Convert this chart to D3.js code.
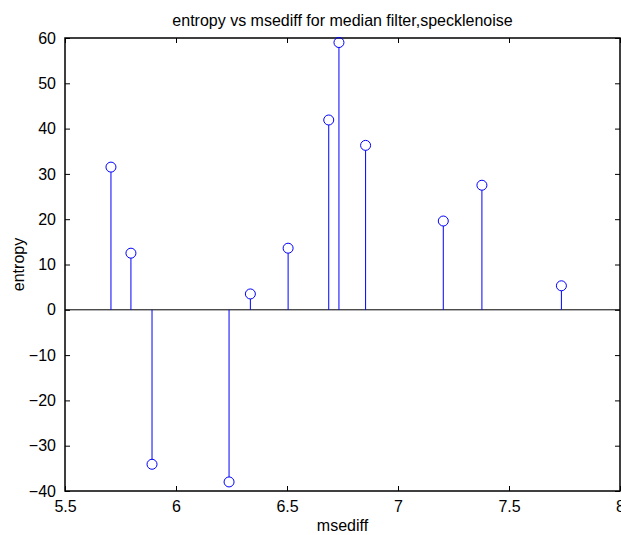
<!DOCTYPE html>
<html>
<head>
<meta charset="utf-8">
<script src="https://cdn.jsdelivr.net/npm/d3@7"></script>
<style>
  body { margin: 0; background: #fff; }
  svg text { font-family: Arial, "Liberation Sans", sans-serif; fill: #000; }
</style>
</head>
<body>
<div class="d3Chart"></div>
<script>
// data
var msediff = [5.707, 5.797, 5.892, 6.239, 6.335, 6.505, 6.688, 6.734, 6.854, 7.204, 7.378, 7.736];
var entropy = [31.5, 12.5, -34.1, -38.0, 3.5, 13.6, 41.9, 59.0, 36.3, 19.6, 27.5, 5.3];
var xTicks = [5.5, 6, 6.5, 7, 7.5, 8];
var yTicks = [-40, -30, -20, -10, 0, 10, 20, 30, 40, 50, 60];

var width = 621;
var height = 535;
var mLeft = 65, mRight = 620, mTop = 38, mBottom = 491;

var svg = d3.select(".d3Chart")
  .append("svg")
  .attr("width", width)
  .attr("height", height);

var xScale = d3.scaleLinear().domain([5.5, 8]).range([mLeft, mRight]);
var yScale = d3.scaleLinear().domain([-40, 60]).range([mBottom, mTop]);

// ticks on all four sides, pointing in
var tk = 5;
svg.append("g").attr("transform", `translate(0,${mBottom})`)
  .call(d3.axisBottom(xScale).tickValues(xTicks).tickSizeInner(-tk).tickSizeOuter(0).tickPadding(10)
    .tickFormat(d3.format("")))
  .call(g => g.select(".domain").remove())
  .call(g => g.selectAll("text").style("font-size", "16px"));
svg.append("g").attr("transform", `translate(0,${mTop})`)
  .call(d3.axisTop(xScale).tickValues(xTicks).tickSizeInner(-tk).tickSizeOuter(0).tickFormat(""))
  .call(g => g.select(".domain").remove());
svg.append("g").attr("transform", `translate(${mLeft},0)`)
  .call(d3.axisLeft(yScale).tickValues(yTicks).tickSizeInner(-tk).tickSizeOuter(0).tickPadding(9))
  .call(g => g.select(".domain").remove())
  .call(g => g.selectAll("text").style("font-size", "16px"));
svg.append("g").attr("transform", `translate(${mRight},0)`)
  .call(d3.axisRight(yScale).tickValues(yTicks).tickSizeInner(-tk).tickSizeOuter(0).tickFormat(""))
  .call(g => g.select(".domain").remove());

svg.selectAll(".tick line").attr("stroke", "#000");

// box
svg.append("rect")
  .attr("x", mLeft).attr("y", mTop)
  .attr("width", mRight - mLeft).attr("height", mBottom - mTop)
  .attr("fill", "none").attr("stroke", "#000").attr("stroke-width", 1.5);

// baseline
svg.append("line")
  .attr("x1", mLeft).attr("x2", mRight)
  .attr("y1", yScale(0)).attr("y2", yScale(0))
  .attr("stroke", "#000").attr("stroke-width", 1);

// stems
var pts = msediff.map((x, i) => ({ x: x, y: entropy[i] }));
svg.append("g").selectAll("line").data(pts).enter().append("line")
  .attr("x1", d => xScale(d.x)).attr("x2", d => xScale(d.x))
  .attr("y1", yScale(0)).attr("y2", d => yScale(d.y) + (d.y > 0 ? 5 : -5))
  .attr("stroke", "#0000ff").attr("stroke-width", 1);
svg.append("g").selectAll("circle").data(pts).enter().append("circle")
  .attr("cx", d => xScale(d.x)).attr("cy", d => yScale(d.y))
  .attr("r", 5)
  .attr("fill", "none").attr("stroke", "#0000ff").attr("stroke-width", 1);

// labels
svg.append("text").attr("x", (mLeft + mRight) / 2).attr("y", 26)
  .attr("text-anchor", "middle").style("font-size", "16px")
  .text("entropy vs msediff for median filter,specklenoise");
svg.append("text").attr("x", (mLeft + mRight) / 2).attr("y", 531)
  .attr("text-anchor", "middle").style("font-size", "16px")
  .text("msediff");
svg.append("text")
  .attr("transform", `translate(24,${(mTop + mBottom) / 2}) rotate(-90)`)
  .attr("text-anchor", "middle").style("font-size", "16px")
  .text("entropy");
</script>
</body>
</html>
